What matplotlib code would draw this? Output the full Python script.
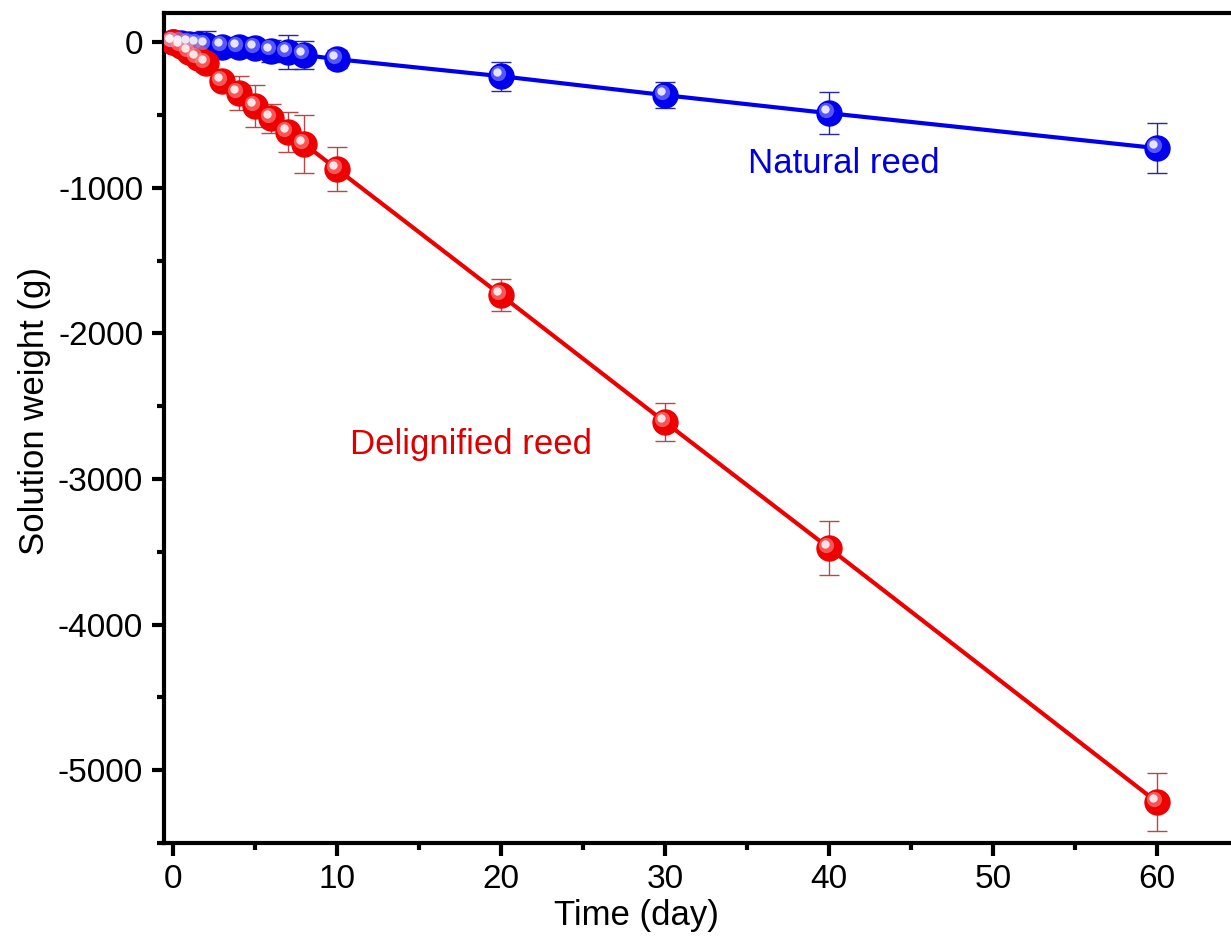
import matplotlib.pyplot as plt
import matplotlib.transforms as mtransforms
from matplotlib.ticker import MultipleLocator
import numpy as np

plt.rcParams['font.family'] = ['Liberation Sans', 'DejaVu Sans']
plt.rcParams['axes.unicode_minus'] = False

days = [0, 0.5, 1, 1.5, 2, 3, 4, 5, 6, 7, 8, 10, 20, 30, 40, 60]
natural = [0, -5, -10, -15, -20, -30, -35, -42, -60, -68, -88, -117, -234, -364, -488, -728]
natural_err = [20, 30, 60, 40, 95, 30, 70, 40, 75, 115, 95, 60, 100, 90, 145, 172]
delig = [0, -27, -69, -110, -144, -268, -350, -440, -522, -618, -700, -872, -1738, -2610, -3475, -5220]
delig_err = [10, 20, 30, 40, 60, 30, 117, 144, 100, 137, 200, 150, 110, 130, 185, 200]

fig = plt.figure(figsize=(12.31, 9.38), dpi=100)
ax = fig.add_axes([0.1332, 0.1013, 0.8668, 0.8848])


def sphere_series(x, y, err, line_c, err_c, mid_c, hi_c):
    ax.errorbar(x, y, yerr=err, fmt='none', ecolor=err_c, elinewidth=1.0,
                capsize=7, capthick=1.0, zorder=2)
    ax.plot(x, y, '-', color=line_c, lw=3, zorder=3)
    ax.plot(x, y, 'o', ms=18, color=line_c, mec=line_c, zorder=4)
    t1 = mtransforms.offset_copy(ax.transData, fig=fig, x=-2.5, y=2.5, units='points')
    ax.plot(x, y, 'o', ms=11, color=mid_c, mec='none', alpha=0.6, transform=t1, zorder=5)
    t2 = mtransforms.offset_copy(ax.transData, fig=fig, x=-3, y=3, units='points')
    ax.plot(x, y, 'o', ms=6, color=hi_c, mec='none', alpha=0.9, transform=t2, zorder=6)


sphere_series(days, natural, natural_err, '#0000ee', '#2828a0', '#9090ff', '#f4f4ff')
sphere_series(days, delig, delig_err, '#ee0000', '#b84848', '#ff9090', '#fff4f4')

ax.set_xlim(-0.55, 64.5)
ax.set_ylim(-5500, 200)
ax.xaxis.set_major_locator(MultipleLocator(10))
ax.xaxis.set_minor_locator(MultipleLocator(5))
ax.yaxis.set_major_locator(MultipleLocator(1000))
ax.yaxis.set_minor_locator(MultipleLocator(500))
ax.tick_params(which='major', direction='out', length=9, width=3, labelsize=24, pad=6)
ax.tick_params(which='minor', direction='out', length=5, width=3)

for s in ['left', 'bottom', 'top']:
    ax.spines[s].set_linewidth(3)
ax.spines['right'].set_visible(False)

ax.set_xlabel('Time (day)', fontsize=25)
ax.set_ylabel('Solution weight (g)', fontsize=25)
ax.xaxis.set_label_coords(0.443, -0.068)
ax.yaxis.set_label_coords(-0.106, 0.520)

ax.text(0.637, 0.819, 'Natural reed', transform=ax.transAxes, color='#0000dd',
        fontsize=25, ha='center', va='center')
ax.text(0.288, 0.480, 'Delignified reed', transform=ax.transAxes, color='#dd0000',
        fontsize=25, ha='center', va='center')

fig.savefig('out.png', dpi=100)
